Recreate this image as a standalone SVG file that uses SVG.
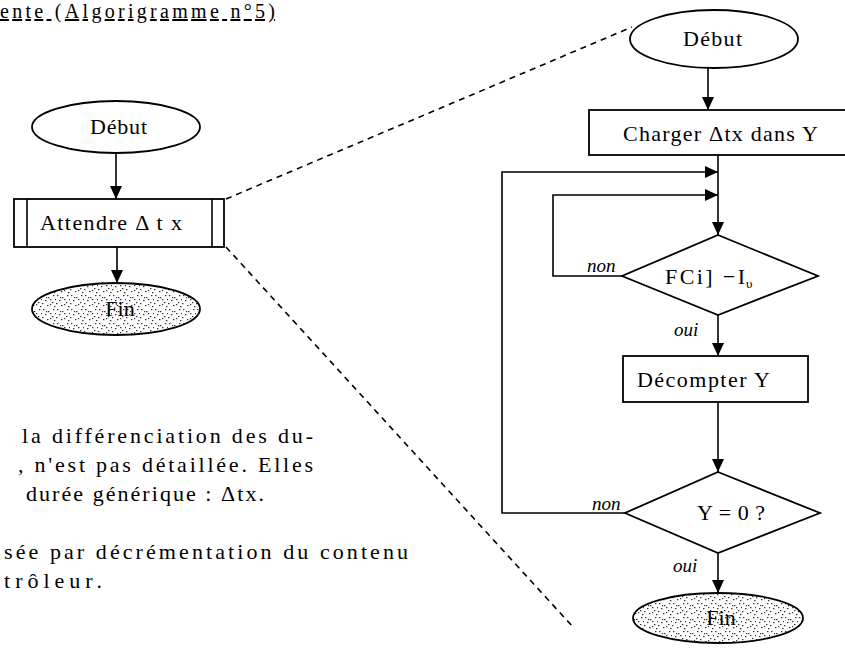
<svg xmlns="http://www.w3.org/2000/svg" width="845" height="648" viewBox="0 0 845 648">
<style>
.ln{stroke:#000;stroke-width:1.6;fill:none}
.sh{stroke:#000;stroke-width:1.8;fill:#fff}
.dash{stroke:#000;stroke-width:1.6;fill:none;stroke-dasharray:6,5}
.t{font-family:"Liberation Serif",serif;font-size:22px;fill:#000}
.i{font-family:"Liberation Serif",serif;font-size:19px;font-style:italic;fill:#000}
.p{font-family:"Liberation Serif",serif;font-size:22px;fill:#000}
.st{fill:url(#dots)}
</style>
<defs>
<marker id="ah" viewBox="0 0 13 12" refX="13" refY="6" markerWidth="13" markerHeight="12" markerUnits="userSpaceOnUse" orient="auto"><path d="M0,0 L13,6 L0,12 z" fill="#000"/></marker>
<pattern id="dots" width="14" height="14" patternUnits="userSpaceOnUse">
<rect width="14" height="14" fill="#fff"/>
<g fill="#333"><rect x="1" y="1" width="1.4" height="1.2"/><rect x="6" y="3" width="1.4" height="1.2"/><rect x="3" y="6" width="1.4" height="1.2"/><rect x="10" y="8" width="1.4" height="1.2"/><rect x="5" y="11" width="1.4" height="1.2"/><rect x="11" y="1" width="1.4" height="1.2"/><rect x="0" y="9" width="1.4" height="1.2"/><rect x="8" y="5" width="1.4" height="1.2"/><rect x="12" y="12" width="1.4" height="1.2"/><rect x="4" y="3" width="1.2" height="1.2"/><rect x="8" y="10" width="1.2" height="1.2"/><rect x="13" y="5" width="1" height="1.2"/></g>
</pattern>
</defs>
<rect width="845" height="648" fill="#fff"/>
<text class="p" x="0" y="18" textLength="275" lengthAdjust="spacing" style="text-decoration:underline;font-size:20px">ente (Algorigramme n°5)</text>
<g id="paragraph">
<text class="p" x="22" y="443" textLength="291" lengthAdjust="spacing">la différenciation des du-</text>
<text class="p" x="18" y="472" textLength="295" lengthAdjust="spacing">, n'est pas détaillée. Elles</text>
<text class="p" x="26" y="501" textLength="238" lengthAdjust="spacing">durée générique : Δtx.</text>
<text class="p" x="4" y="559" textLength="404" lengthAdjust="spacing">sée par décrémentation du contenu</text>
<text class="p" x="4" y="588" textLength="98" lengthAdjust="spacing">trôleur.</text>
</g>
<g id="connectors">
<line class="dash" x1="226" y1="199" x2="632" y2="27"/>
<line class="dash" x1="226" y1="247" x2="573" y2="627"/>
<line class="ln" x1="116" y1="153" x2="116" y2="199" marker-end="url(#ah)"/>
<line class="ln" x1="117" y1="247" x2="117" y2="283" marker-end="url(#ah)"/>
<line class="ln" x1="708" y1="68" x2="708" y2="110" marker-end="url(#ah)"/>
<line class="ln" x1="718" y1="155" x2="718" y2="235" marker-end="url(#ah)"/>
<polyline class="ln" points="625,513 502,513 502,172 718,172" marker-end="url(#ah)"/>
<polyline class="ln" points="622,276 553,276 553,195 718,195" marker-end="url(#ah)"/>
<line class="ln" x1="718" y1="315" x2="718" y2="356" marker-end="url(#ah)"/>
<line class="ln" x1="718" y1="402" x2="718" y2="472" marker-end="url(#ah)"/>
<line class="ln" x1="718" y1="553" x2="718" y2="593" marker-end="url(#ah)"/>
<text class="i" x="587" y="272">non</text>
<text class="i" x="674" y="336">oui</text>
<text class="i" x="592" y="510">non</text>
<text class="i" x="673" y="572">oui</text>
</g>
<g id="l-debut"><ellipse class="sh" cx="116" cy="127" rx="84" ry="26"/><text class="t" x="90" y="134" textLength="57" lengthAdjust="spacing">Début</text></g>
<g id="l-attendre"><rect class="sh" x="14" y="199" width="210" height="48"/><line class="ln" x1="27" y1="199" x2="27" y2="247"/><line class="ln" x1="212" y1="199" x2="212" y2="247"/><text class="t" x="40" y="230" textLength="142" lengthAdjust="spacing">Attendre  Δ t x</text></g>
<g id="l-fin"><ellipse class="sh st" cx="116" cy="309" rx="84" ry="26"/><text class="t" x="120" y="316" text-anchor="middle">Fin</text></g>
<g id="r-debut"><ellipse class="sh" cx="714" cy="39" rx="84" ry="29"/><text class="t" x="683" y="46" textLength="59" lengthAdjust="spacing">Début</text></g>
<g id="r-charger"><rect class="sh" x="589" y="110" width="262" height="45"/><text class="t" x="623" y="141" textLength="195" lengthAdjust="spacing">Charger Δtx  dans Y</text></g>
<g id="r-fc"><polygon class="sh" points="718,235 818,276 718,315 622,276"/><text class="t" x="665" y="284" textLength="80" lengthAdjust="spacing">FCi] −I</text><text class="t" x="746" y="288" style="font-size:13px">υ</text></g>
<g id="r-decompter"><rect class="sh" x="623" y="356" width="185" height="46"/><text class="t" x="637" y="387" textLength="133" lengthAdjust="spacing">Décompter  Y</text></g>
<g id="r-y0"><polygon class="sh" points="718,472 820,513 718,553 625,513"/><text class="t" x="697" y="520" textLength="68" lengthAdjust="spacing">Y = 0 ?</text></g>
<g id="r-fin"><ellipse class="sh st" cx="718" cy="618" rx="85" ry="25"/><text class="t" x="721" y="625" text-anchor="middle">Fin</text></g>
</svg>
